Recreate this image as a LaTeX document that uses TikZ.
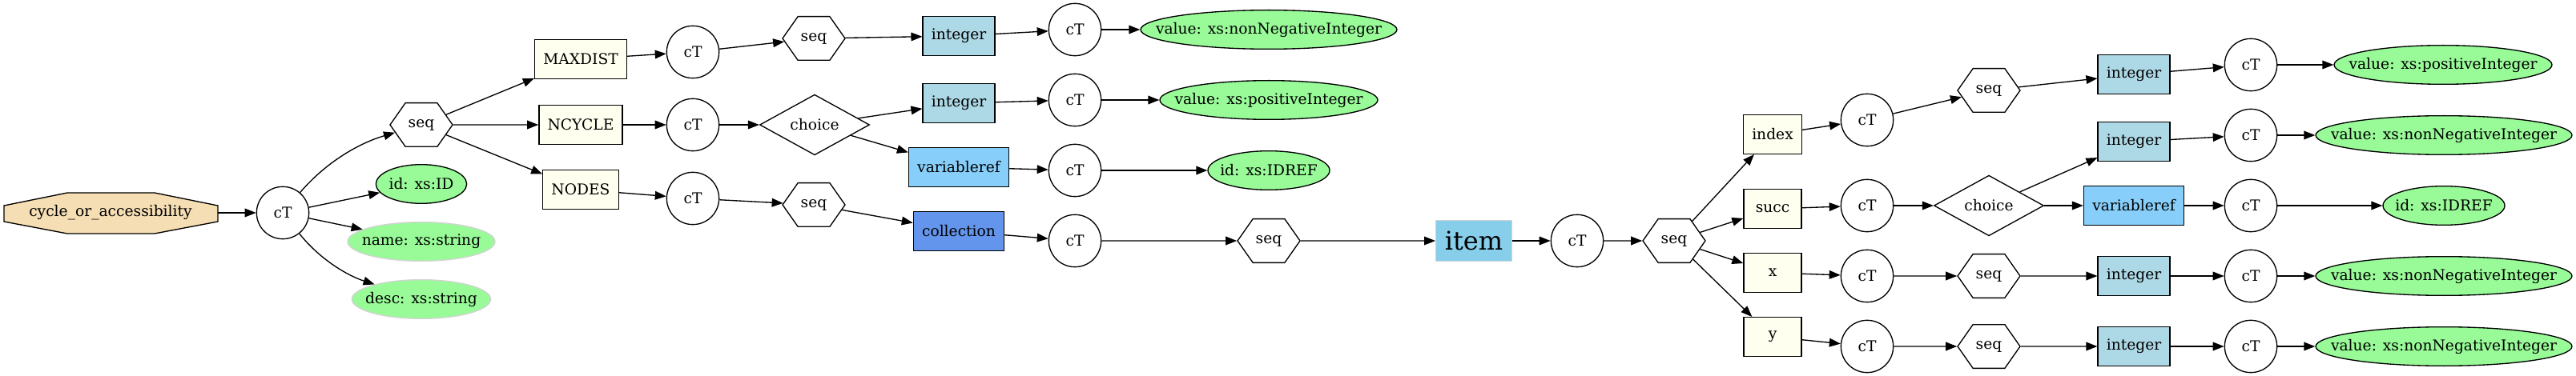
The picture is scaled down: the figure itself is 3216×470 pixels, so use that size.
\documentclass[tikz,border=0pt]{standalone}
\usepackage{fontspec}
\setmainfont{DejaVu Serif}
\usetikzlibrary{arrows.meta,shapes.geometric,shapes.symbols}

\definecolor{wheat}{HTML}{F5DEB3}
\definecolor{ivory}{HTML}{FFFFF0}
\definecolor{lblue}{HTML}{ADD8E6}
\definecolor{lsky}{HTML}{87CEFA}
\definecolor{cflower}{HTML}{6495ED}
\definecolor{sky}{HTML}{87CEEB}
\definecolor{pgreen}{HTML}{98FB98}
\definecolor{lgray}{HTML}{D3D3D3}

\tikzset{
  every node/.style={font=\fontsize{14}{16}\selectfont},
  link/.style={line width=1pt,-{Triangle[length=10.5pt,width=8pt]}},
  ct/.style={circle,draw,line width=1pt,minimum size=49pt,inner sep=0pt},
  elem/.style={rectangle,draw,line width=1pt,fill=ivory,minimum width=54pt,minimum height=36.5pt,inner xsep=8pt},
  intbox/.style={elem,fill=lblue},
  refbox/.style={elem,fill=lsky},
  seqbox/.style={signal,signal to=east and west,signal pointer angle=110,draw,line width=1pt,minimum width=58.5pt,minimum height=41pt,inner sep=0pt},
  choicebox/.style={diamond,draw,line width=1pt,minimum width=102.75pt,minimum height=49.5pt,inner sep=0pt},
  attr/.style={ellipse,draw,line width=1pt,fill=pgreen,minimum height=36.5pt,inner xsep=-100pt,inner ysep=0pt},
  optattr/.style={attr,draw=lgray},
}

\begin{document}
\begin{tikzpicture}[x=0.75pt,y=-0.75pt]
  \useasboundingbox (0,0) rectangle (3216,470);

  \draw[line width=1pt,fill=wheat] (5,257) -- (84,241) -- (193,241) -- (272,257)
    -- (272,277) -- (193,292) -- (84,292) -- (5,277) -- cycle;
  \node[minimum width=200pt,minimum height=38pt] (cyc) at (138,266) {cycle\_or\_accessibility};

  \node[ct] (ct1) at (353,266) {cT};
  \node[seqbox] (seqa) at (526,156) {seq};
  \node[attr,minimum width=85pt] (ida) at (526,230) {id: xs:ID};
  \node[optattr,minimum width=138pt] (namea) at (526,302) {name: xs:string};
  \node[optattr,minimum width=130pt] (desca) at (526,374) {desc: xs:string};

  \node[elem] (maxdist) at (725,74) {MAXDIST};
  \node[elem] (ncycle) at (725,156) {NCYCLE};
  \node[elem] (nodes) at (725,237) {NODES};

  % MAXDIST
  \node[ct] (ctm) at (865,65) {cT};
  \node[seqbox] (seqm) at (1016,48) {seq};
  \node[intbox] (intm) at (1197,45) {integer};
  \node[ct] (ctmi) at (1342,37) {cT};
  \node[attr,minimum width=240pt] (valm) at (1584,37) {value: xs:nonNegativeInteger};

  % NCYCLE
  \node[ct] (ctn) at (865,156) {cT};
  \node[choicebox] (choicen) at (1017,156) {choice};
  \node[intbox] (intn) at (1197,129) {integer};
  \node[ct] (ctni) at (1342,125) {cT};
  \node[attr,minimum width=204pt] (valn) at (1584,125) {value: xs:positiveInteger};
  \node[refbox] (vrefn) at (1197,209) {variableref};
  \node[ct] (ctnv) at (1342,213) {cT};
  \node[attr,minimum width=114pt] (idn) at (1584,213) {id: xs:IDREF};

  % NODES
  \node[ct] (ctd) at (865,248) {cT};
  \node[seqbox] (seqd) at (1016,256) {seq};
  \node[elem,fill=cflower] (coll) at (1197,289) {collection};
  \node[ct] (ctc) at (1342,301) {cT};
  \node[seqbox] (seqc) at (1584,301) {seq};
  \node[rectangle,draw=lgray,line width=1pt,fill=sky,minimum width=71pt,minimum height=38pt,
    inner xsep=4pt,font=\fontsize{24}{28}\selectfont] (item) at (1840,301) {item};
  \node[ct] (cti) at (1969,301) {cT};
  \node[seqbox] (seqi) at (2090,301) {seq};

  \node[elem] (index) at (2213,168) {index};
  \node[elem] (succ) at (2213,261) {succ};
  \node[elem] (x) at (2213,341) {x};
  \node[elem] (y) at (2213,421) {y};

  \node[ct] (ctix) at (2331,150) {cT};
  \node[seqbox] (seqix) at (2483,113) {seq};
  \node[intbox] (intix) at (2664,93) {integer};
  \node[ct] (ctixi) at (2810,81) {cT};
  \node[attr,minimum width=204pt] (valix) at (3050,81) {value: xs:positiveInteger};

  \node[ct] (cts) at (2331,257) {cT};
  \node[choicebox] (choices) at (2483,257) {choice};
  \node[intbox] (ints) at (2664,177) {integer};
  \node[ct] (ctsi) at (2810,169) {cT};
  \node[attr,minimum width=240pt] (vals) at (3051,169) {value: xs:nonNegativeInteger};
  \node[refbox] (vrefs) at (2664,257) {variableref};
  \node[ct] (ctsv) at (2810,257) {cT};
  \node[attr,minimum width=114pt] (ids) at (3051,257) {id: xs:IDREF};

  \node[ct] (ctx) at (2331,345) {cT};
  \node[seqbox] (seqx) at (2483,345) {seq};
  \node[intbox] (intx) at (2664,345) {integer};
  \node[ct] (ctxi) at (2810,345) {cT};
  \node[attr,minimum width=240pt] (valx) at (3051,345) {value: xs:nonNegativeInteger};

  \node[ct] (cty) at (2331,433) {cT};
  \node[seqbox] (seqy) at (2483,433) {seq};
  \node[intbox] (inty) at (2664,433) {integer};
  \node[ct] (ctyi) at (2810,433) {cT};
  \node[attr,minimum width=240pt] (valy) at (3051,433) {value: xs:nonNegativeInteger};

  \draw[link] (ct1) .. controls (405,205) and (445,180) .. (seqa);
  \draw[link] (ct1) .. controls (400,325) and (435,345) .. (desca);

  \foreach \a/\b in {cyc/ct1,ct1/ida,ct1/namea,seqa/maxdist,seqa/ncycle,seqa/nodes,
      maxdist/ctm,ctm/seqm,seqm/intm,intm/ctmi,ctmi/valm,
      ncycle/ctn,ctn/choicen,choicen/intn,intn/ctni,ctni/valn,choicen/vrefn,vrefn/ctnv,ctnv/idn,
      nodes/ctd,ctd/seqd,seqd/coll,coll/ctc,ctc/seqc,seqc/item,item/cti,cti/seqi,
      seqi/index,seqi/succ,seqi/x,seqi/y,
      index/ctix,ctix/seqix,seqix/intix,intix/ctixi,ctixi/valix,
      succ/cts,cts/choices,choices/ints,ints/ctsi,ctsi/vals,choices/vrefs,vrefs/ctsv,ctsv/ids,
      x/ctx,ctx/seqx,seqx/intx,intx/ctxi,ctxi/valx,
      y/cty,cty/seqy,seqy/inty,inty/ctyi,ctyi/valy} {
    \draw[link] (\a) -- (\b);
  }
\end{tikzpicture}
\end{document}
